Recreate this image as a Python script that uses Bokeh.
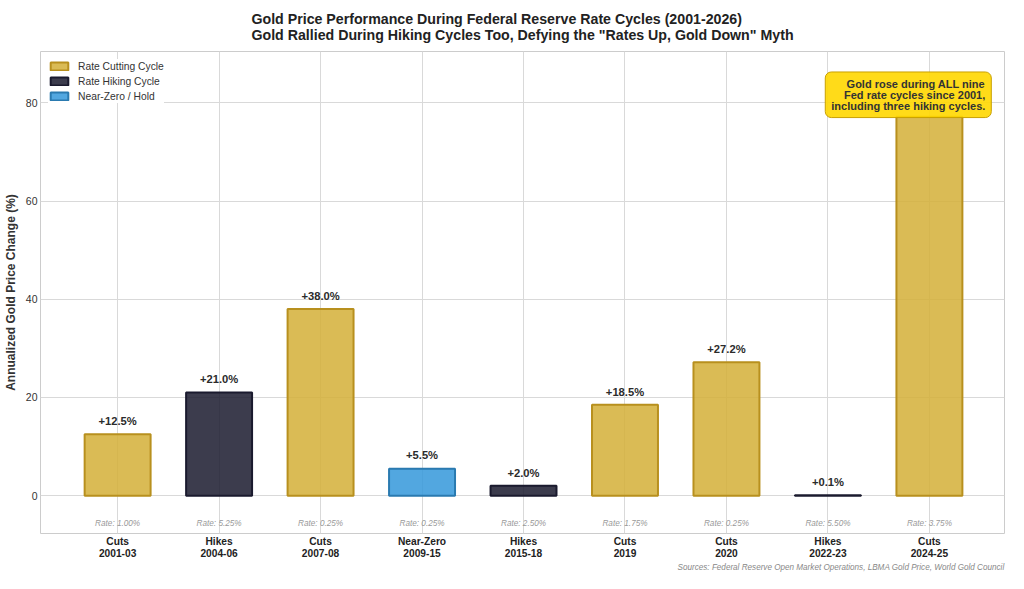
from bokeh.plotting import figure
from bokeh.models import (ColumnDataSource, FixedTicker, Label, Range1d, Legend, LegendItem, Title)
from bokeh.core.properties import value
from bokeh.embed import file_html
from bokeh.resources import INLINE

# ---- data ----
cycle_types = ["Cuts", "Hikes", "Cuts", "Near-Zero", "Hikes", "Cuts", "Cuts", "Hikes", "Cuts"]
periods = ["2001-03", "2004-06", "2007-08", "2009-15", "2015-18", "2019", "2020", "2022-23", "2024-25"]
changes = [12.5, 21.0, 38.0, 5.5, 2.0, 18.5, 27.2, 0.1, 77.2]
rates = ["1.00%", "5.25%", "0.25%", "0.25%", "2.50%", "1.75%", "0.25%", "5.50%", "3.75%"]
kinds = ["cut", "hike", "cut", "zero", "hike", "cut", "cut", "hike", "cut"]
legend_names = {"cut": "Rate Cutting Cycle", "hike": "Rate Hiking Cycle", "zero": "Near-Zero / Hold"}
y_ticks = [0, 20, 40, 60, 80]
title_1 = "Gold Price Performance During Federal Reserve Rate Cycles (2001-2026)"
title_2 = 'Gold Rallied During Hiking Cycles Too, Defying the "Rates Up, Gold Down" Myth'
sources = "Sources: Federal Reserve Open Market Operations, LBMA Gold Price, World Gold Council"

FILL = {"cut": "#d4af37", "hike": "#1a1a2e", "zero": "#3498db"}
EDGE = {"cut": "#b8901e", "hike": "#1a1a2e", "zero": "#2a7ab0"}
FONT = "Liberation Sans"

xs = list(range(len(changes)))

p = figure(width=1008, height=573, output_backend="svg", toolbar_location=None,
           x_range=Range1d(-0.76, 8.74), y_range=Range1d(-7.7, 90.47),
           min_border_left=38, min_border_right=4, min_border_top=51, min_border_bottom=34)

p.title = Title(text=title_1 + "\n" + title_2, align="center", offset=20, text_font=FONT,
                text_font_size="14.2px", text_font_style="bold", text_color="#222222",
                standoff=14, text_line_height=1.0, vertical_align="top")

p.background_fill_color = "white"
p.border_fill_color = "white"
p.outline_line_color = "#cccccc"
p.outline_line_width = 1

items = []
for k in ["cut", "hike", "zero"]:
    idx = [i for i in xs if kinds[i] == k]
    src = ColumnDataSource(dict(x=[xs[i] for i in idx], top=[changes[i] for i in idx]))
    r = p.vbar(x="x", top="top", bottom=0, width=0.65, source=src,
               fill_color=FILL[k], fill_alpha=0.85, line_color=EDGE[k], line_width=2)
    items.append(LegendItem(label=legend_names[k], renderers=[r]))

legend = Legend(items=items, location="top_left", glyph_width=22, glyph_height=10,
                label_text_font=FONT, label_text_font_size="10.3px", label_text_color="#333333",
                label_height=14, spacing=1, label_standoff=8, margin=8, padding=7,
                border_line_color=None, background_fill_color="white", background_fill_alpha=1.0)
p.add_layout(legend)

lab_idx = [i for i in xs if i != len(xs) - 1]
vsrc = ColumnDataSource(dict(x=[xs[i] for i in lab_idx], y=[changes[i] + 2.7 for i in lab_idx],
                             t=["+%.1f%%" % changes[i] for i in lab_idx]))
p.text(x="x", y="y", text="t", source=vsrc, text_align="center", text_baseline="middle",
       text_font=value(FONT), text_font_size="11.2px", text_font_style="bold", text_color="#2b2b2b")

rsrc = ColumnDataSource(dict(x=xs, y=[-5.7] * len(xs), t=["Rate: " + r for r in rates]))
p.text(x="x", y="y", text="t", source=rsrc, text_align="center", text_baseline="middle",
       text_font=value(FONT), text_font_size="8.2px", text_font_style="italic", text_color="#999999")

note = Label(x=8.61, y=86.3, text="Gold rose during ALL nine\nFed rate cycles since 2001,\nincluding three hiking cycles.",
             anchor="top_right", text_align="right", text_font=FONT, text_font_size="11px",
             text_font_style="bold", text_color="#333333", text_line_height=0.9,
             background_fill_color="#ffd700", background_fill_alpha=0.9,
             border_line_color="#c9a000", border_line_width=1, border_radius=6, padding=6)
p.add_layout(note)

p.add_layout(Title(text=sources, align="right", text_font=FONT, text_font_size="8.15px",
                   text_font_style="italic", text_color="#888888", standoff=0,
                   vertical_align="top"), "below")

p.xaxis.ticker = FixedTicker(ticks=xs)
p.xaxis.major_label_overrides = {i: cycle_types[i] + "\n" + periods[i] for i in xs}
p.xaxis.major_label_text_font = FONT
p.xaxis.major_label_text_font_size = "10.2px"
p.xaxis.major_label_text_font_style = "bold"
p.xaxis.major_label_text_color = "#222222"
p.xaxis.major_label_text_line_height = 1.15
p.xaxis.major_label_standoff = 2

p.yaxis.ticker = FixedTicker(ticks=y_ticks)
p.yaxis.axis_label = "Annualized Gold Price Change (%)"
p.yaxis.axis_label_text_font = FONT
p.yaxis.axis_label_text_font_size = "12px"
p.yaxis.axis_label_text_font_style = "bold"
p.yaxis.axis_label_text_color = "#333333"
p.yaxis.axis_label_standoff = 5
p.yaxis.major_label_text_font = FONT
p.yaxis.major_label_text_font_size = "10.5px"
p.yaxis.major_label_text_color = "#333333"
p.yaxis.major_label_standoff = 3

for ax in (p.xaxis, p.yaxis):
    ax.axis_line_color = None
    ax.major_tick_line_color = None
    ax.minor_tick_line_color = None
    ax.major_tick_out = 0
    ax.major_tick_in = 0
    ax.minor_tick_out = 0

p.xgrid.ticker = FixedTicker(ticks=xs)
p.ygrid.ticker = FixedTicker(ticks=y_ticks)
p.grid.grid_line_color = "#d9d9d9"
p.grid.grid_line_width = 1

open("out.html", "w").write(file_html(p, INLINE))
